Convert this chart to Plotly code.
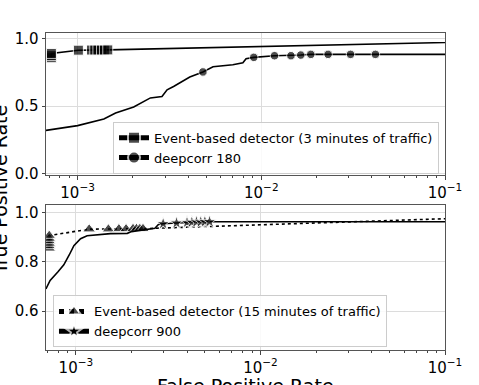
import plotly.graph_objects as go

# --- top panel: 3 minutes / 180 s ---
event3_fpr = [7.2e-4, 7.2e-4, 7.2e-4, 1.01e-3, 1.19e-3, 1.24e-3, 1.29e-3, 1.35e-3, 1.40e-3, 1.46e-3, 1.0]
event3_tpr = [0.857, 0.873, 0.889, 0.913, 0.914, 0.914, 0.914, 0.914, 0.914, 0.915, 1.0]
event3_marked = list(range(10))

deep180_fpr = [6.73e-4, 1.0e-3, 1.39e-3, 1.61e-3, 2.02e-3, 2.2e-3, 2.49e-3, 2.88e-3, 3.07e-3,
               3.33e-3, 3.6e-3, 4.08e-3, 4.81e-3, 5.46e-3, 7.0e-3, 7.94e-3, 8.26e-3, 9.1e-3,
               1.18e-2, 1.45e-2, 1.64e-2, 1.86e-2, 2.31e-2, 3.06e-2, 4.18e-2, 1.0]
deep180_tpr = [0.32, 0.355, 0.404, 0.449, 0.493, 0.52, 0.56, 0.571, 0.62,
               0.645, 0.67, 0.715, 0.752, 0.79, 0.805, 0.82, 0.85, 0.86,
               0.872, 0.872, 0.877, 0.882, 0.882, 0.882, 0.882, 0.882]
deep180_marked = [12, 17, 18, 19, 20, 21, 22, 23, 24]

# --- bottom panel: 15 minutes / 900 s ---
event15_fpr = [7.17e-4, 7.17e-4, 7.17e-4, 7.17e-4, 7.17e-4, 7.17e-4, 1.18e-3, 1.50e-3, 1.71e-3,
               1.87e-3, 2.04e-3, 2.13e-3, 2.22e-3, 2.31e-3, 1.0]
event15_tpr = [0.855, 0.865, 0.875, 0.885, 0.895, 0.907, 0.933, 0.933, 0.934,
               0.934, 0.935, 0.935, 0.935, 0.935, 1.0]
event15_marked = list(range(14))

deep900_fpr = [6.88e-4, 7.25e-4, 8.0e-4, 8.6e-4, 9.2e-4, 9.75e-4, 1.06e-3, 1.15e-3, 1.54e-3,
               1.9e-3, 2.0e-3, 2.41e-3, 2.68e-3, 2.8e-3, 2.97e-3, 3.51e-3, 4.0e-3, 4.25e-3,
               4.5e-3, 4.75e-3, 5.0e-3, 5.3e-3, 1.0]
deep900_tpr = [0.69, 0.725, 0.76, 0.788, 0.828, 0.866, 0.894, 0.906, 0.915,
               0.916, 0.923, 0.933, 0.937, 0.952, 0.955, 0.958, 0.96, 0.961,
               0.962, 0.962, 0.963, 0.963, 0.963]
deep900_marked = list(range(14, 22))


def sizes(n, marked, s):
    return [s if i in marked else 0 for i in range(n)]


fig = go.Figure()
fig.add_trace(go.Scatter(x=event3_fpr, y=event3_tpr, mode='lines+markers',
                         name='Event-based detector (3 minutes of traffic)',
                         line=dict(color='black', width=1.6),
                         marker=dict(symbol='square', color='black',
                                     size=sizes(len(event3_fpr), event3_marked, 10)),
                         xaxis='x', yaxis='y', legend='legend'))
fig.add_trace(go.Scatter(x=deep180_fpr, y=deep180_tpr, mode='lines+markers',
                         name='deepcorr 180',
                         line=dict(color='black', width=1.6),
                         marker=dict(symbol='circle', color='black',
                                     size=sizes(len(deep180_fpr), deep180_marked, 8.5)),
                         xaxis='x', yaxis='y', legend='legend'))
fig.add_trace(go.Scatter(x=event15_fpr, y=event15_tpr, mode='lines+markers',
                         name='Event-based detector (15 minutes of traffic)',
                         line=dict(color='black', width=1.6, dash='dot'),
                         marker=dict(symbol='triangle-up', color='black',
                                     size=sizes(len(event15_fpr), event15_marked, 11)),
                         xaxis='x2', yaxis='y2', legend='legend2'))
fig.add_trace(go.Scatter(x=deep900_fpr, y=deep900_tpr, mode='lines+markers',
                         name='deepcorr 900',
                         line=dict(color='black', width=1.6),
                         marker=dict(symbol='star', color='black',
                                     size=sizes(len(deep900_fpr), deep900_marked, 10)),
                         xaxis='x2', yaxis='y2', legend='legend2'))

tick_font = dict(family='DejaVu Sans', size=15, color='black')
minor_vals = [k * 10.0 ** e for e in (-4, -3, -2) for k in range(2, 10)]
xcommon = dict(type='log', tickvals=[1e-3, 1e-2, 1e-1],
               ticktext=['10<sup>−3</sup>', '10<sup>−2</sup>', '10<sup>−1</sup>'],
               ticks='outside', ticklen=3.5, tickcolor='#444',
               minor=dict(tickvals=minor_vals, ticks='outside', ticklen=2,
                          tickcolor='#444', showgrid=False),
               showline=True, linecolor='#555', mirror=True,
               showgrid=True, gridcolor='#dcdcdc', zeroline=False, tickfont=tick_font)
ycommon = dict(ticks='outside', ticklen=3.5, tickcolor='#444', tickformat='.1f',
               showline=True, linecolor='#555', mirror=True,
               showgrid=True, gridcolor='#dcdcdc', zeroline=False, tickfont=tick_font)

leg_common = dict(font=dict(family='DejaVu Sans', size=13, color='black'),
                  bgcolor='rgba(255,255,255,0.85)', bordercolor='#cccccc', borderwidth=1,
                  itemsizing='constant', tracegroupgap=0)

fig.update_layout(
    width=479, height=385,
    margin=dict(l=46, r=34, t=33, b=35, autoexpand=False),
    paper_bgcolor='white', plot_bgcolor='white',
    showlegend=True,
    xaxis=dict(xcommon, range=[-3.172, -1], domain=[0, 1], anchor='y'),
    yaxis=dict(ycommon, range=[-0.01, 1.04], tickvals=[0, 0.5, 1.0],
               domain=[0.552, 1], anchor='x'),
    xaxis2=dict(xcommon, range=[-3.162, -1], domain=[0, 1], anchor='y2'),
    yaxis2=dict(ycommon, range=[0.442, 1.03], tickvals=[0.6, 0.8, 1.0],
                domain=[0, 0.4565], anchor='x2'),
    legend=dict(leg_common, x=0.985, xanchor='right', y=0.556, yanchor='bottom'),
    legend2=dict(leg_common, x=0.0175, xanchor='left', y=0.008, yanchor='bottom'),
    annotations=[
        dict(text='True Positive Rate', xref='paper', yref='paper', x=-0.115, y=0.505,
             xanchor='center', yanchor='middle', textangle=-90, showarrow=False,
             font=dict(family='DejaVu Sans', size=19, color='black')),
        dict(text='False Positive Rate', xref='paper', yref='paper', x=0.5, y=-0.074,
             xanchor='center', yanchor='top', showarrow=False,
             font=dict(family='DejaVu Sans', size=19, color='black')),
    ],
)

# the page's default body margin would push the figure 8px down and right
fig.write_html('out.html', config={'displayModeBar': False},
               post_script="document.body.style.margin='0';")
